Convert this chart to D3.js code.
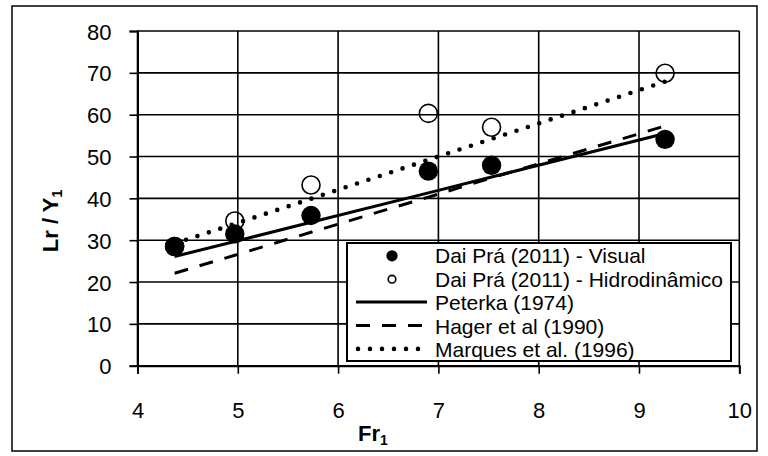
<!DOCTYPE html>
<html>
<head>
<meta charset="utf-8">
<script src="https://cdn.jsdelivr.net/npm/d3@7"></script>
<style>
  html, body { margin: 0; padding: 0; background: #fff; }
  svg { display: block; font-family: "Liberation Sans", Arial, sans-serif; }
</style>
</head>
<body>
<svg id="chart" width="768" height="456"></svg>
<script>
// Froude number of the incoming flow
const fr = [4.37, 4.97, 5.73, 6.90, 7.53, 9.26];
// Measured roller length ratios
const visual = [28.5, 31.5, 35.9, 46.5, 47.9, 54.1];
const hidro = [28.5, 34.6, 43.2, 60.3, 57.0, 69.9];
// Literature relations evaluated at the same Froude numbers
const peterka = [26.1, 29.7, 34.3, 41.3, 45.1, 55.5];
const hager = [22.1, 26.4, 31.9, 40.3, 44.9, 57.3];
const marques = [29.2, 33.9, 39.9, 49.2, 54.2, 67.9];

const xTicks = [4, 5, 6, 7, 8, 9, 10];
const yTicks = [0, 10, 20, 30, 40, 50, 60, 70, 80];
const legendLabels = [
  "Dai Prá (2011) - Visual",
  "Dai Prá (2011) - Hidrodinâmico",
  "Peterka (1974)",
  "Hager et al (1990)",
  "Marques et al. (1996)"
];

const svg = d3.select("#chart");
const x = d3.scaleLinear().domain([4, 10]).range([137.5, 739.3]);
const y = d3.scaleLinear().domain([0, 80]).range([365.7, 31]);

// chart frame
svg.append("rect")
  .attr("x", 12).attr("y", 6).attr("width", 745).attr("height", 445)
  .attr("fill", "#fff").attr("stroke", "#000").attr("stroke-width", 1.5);

// gridlines
const grid = svg.append("g").attr("stroke", "#000").attr("stroke-width", 1.6);
grid.selectAll("line.h").data(yTicks).join("line")
  .attr("x1", x(4)).attr("x2", x(10))
  .attr("y1", d => y(d)).attr("y2", d => y(d));
grid.selectAll("line.v").data(xTicks).join("line")
  .attr("y1", y(0)).attr("y2", y(80))
  .attr("x1", d => x(d)).attr("x2", d => x(d));

// axes
const xAxis = d3.axisBottom(x).tickValues(xTicks).tickSize(8).tickPadding(27)
  .tickFormat(d3.format("d"));
const yAxis = d3.axisLeft(y).tickValues(yTicks).tickSize(8).tickPadding(27)
  .tickFormat(d3.format("d"));

const gx = svg.append("g").attr("transform", `translate(0,${y(0)})`).call(xAxis);
const gy = svg.append("g").attr("transform", `translate(${x(4)},0)`).call(yAxis);
[gx, gy].forEach(g => {
  g.select(".domain").attr("stroke", "#000").attr("stroke-width", 2);
  g.selectAll(".tick line").attr("stroke", "#000").attr("stroke-width", 1.6);
  g.selectAll(".tick text").attr("font-size", 22).attr("fill", "#000")
    .attr("font-family", "Liberation Sans, Arial, sans-serif");
});
gx.selectAll(".tick text").attr("dy", null).attr("y", 52);
gy.selectAll(".tick text").attr("dy", null).attr("x", -26).attr("y", 8);

// axis titles
const xt = svg.append("text").attr("x", 358).attr("y", 441)
  .attr("font-size", 22).attr("font-weight", "bold").text("Fr");
xt.append("tspan").attr("font-size", 14).attr("dy", 4).text("1");

const yt = svg.append("text")
  .attr("transform", "translate(58,221) rotate(-90)")
  .attr("text-anchor", "middle")
  .attr("font-size", 22).attr("font-weight", "bold").text("Lr / Y");
yt.append("tspan").attr("font-size", 14).attr("dy", 4).text("1");

// markers
const pts = (vals) => fr.map((f, i) => [f, vals[i]]);
svg.append("g").selectAll("circle").data(pts(hidro)).join("circle")
  .attr("cx", d => x(d[0])).attr("cy", d => y(d[1])).attr("r", 9)
  .attr("fill", "none").attr("stroke", "#000").attr("stroke-width", 1.6);
svg.append("g").selectAll("circle").data(pts(visual)).join("circle")
  .attr("cx", d => x(d[0])).attr("cy", d => y(d[1])).attr("r", 9.7)
  .attr("fill", "#000");

// relation lines
const line = d3.line().x(d => x(d[0])).y(d => y(d[1]));
const lineStyles = [
  { vals: peterka, dash: null, w: 3, cap: "butt" },
  { vals: hager, dash: "14,12", w: 3, cap: "butt" },
  { vals: marques, dash: "0,12", w: 4.6, cap: "round" }
];
lineStyles.forEach(s => {
  svg.append("path").datum(pts(s.vals)).attr("d", line)
    .attr("fill", "none").attr("stroke", "#000")
    .attr("stroke-width", s.w).attr("stroke-linecap", s.cap)
    .attr("stroke-dasharray", s.dash);
});

// legend
const lg = svg.append("g");
lg.append("rect").attr("x", 347).attr("y", 243).attr("width", 384).attr("height", 118)
  .attr("fill", "#fff").attr("stroke", "#000").attr("stroke-width", 2);
const rowY = i => 263.3 + i * 23.4;
lg.selectAll("text").data(legendLabels).join("text")
  .attr("x", 435).attr("y", (d, i) => rowY(i))
  .attr("font-size", 21).attr("fill", "#000").text(d => d);
lg.append("circle").attr("cx", 392).attr("cy", rowY(0) - 7.5).attr("r", 5.6).attr("fill", "#000");
lg.append("circle").attr("cx", 392).attr("cy", rowY(1) - 7.5).attr("r", 3.8)
  .attr("fill", "none").attr("stroke", "#000").attr("stroke-width", 1.6);
lineStyles.forEach((s, i) => {
  const yy = rowY(i + 2) - 8;
  lg.append("line").attr("x1", s.cap === "round" ? 358 : 356).attr("x2", 427)
    .attr("y1", yy).attr("y2", yy)
    .attr("stroke", "#000").attr("stroke-width", s.w)
    .attr("stroke-linecap", s.cap).attr("stroke-dasharray", s.dash);
});
</script>
</body>
</html>
